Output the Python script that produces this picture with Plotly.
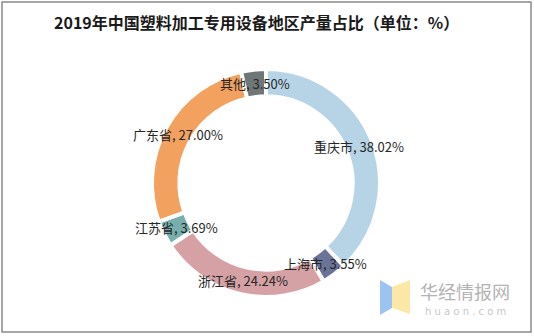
import math
import plotly.graph_objects as go

# Regional share of output of special equipment for plastics processing, 2019 (%)
regions = ["重庆市", "上海市", "浙江省", "江苏省", "广东省", "其他"]
shares = [38.02, 3.55, 24.24, 3.69, 27.00, 3.50]
colors = ["#b7d4e6", "#6b7399", "#d5a1a5", "#78afad", "#f3a15e", "#6f7776"]

W, H = 534, 336
CX, CY, R = 266, 183, 114     # donut centre and outer radius (px)
LABEL_R = 100                 # radius at which slice labels sit (px)

fig = go.Figure(
    go.Pie(
        labels=regions,
        values=shares,
        sort=False,
        direction="clockwise",
        rotation=0,
        hole=0.76,
        marker=dict(colors=colors, line=dict(color="white", width=4)),
        textinfo="none",
        hoverinfo="label+value",
        showlegend=False,
        domain=dict(x=[(CX - R) / W, (CX + R) / W],
                    y=[1 - (CY + R) / H, 1 - (CY - R) / H]),
    )
)

# Slice labels placed at the mid-angle of each slice
annotations = []
total = sum(shares)
cum = 0.0
for name, v in zip(regions, shares):
    mid = (cum + v / 2) / total * 2 * math.pi
    cum += v
    px = CX + LABEL_R * math.sin(mid)
    py = CY - LABEL_R * math.cos(mid)
    annotations.append(dict(
        x=px / W, y=1 - py / H, xref="paper", yref="paper",
        text=f"{name}, {v:.2f}%", showarrow=False,
        xanchor="center", yanchor="middle",
        font=dict(family="Noto Sans CJK SC", size=13, color="#262626"),
    ))

# Title
annotations.append(dict(
    x=256 / W, y=1 - 22 / H, xref="paper", yref="paper",
    text="<b>2019年中国塑料加工专用设备地区产量占比（单位：%）</b>",
    showarrow=False, xanchor="center", yanchor="middle",
    font=dict(family="Noto Sans CJK SC", size=16, color="#1a1a1a"),
))

# Source mark in the lower-right corner
annotations.append(dict(
    x=465 / W, y=1 - 291 / H, xref="paper", yref="paper",
    text="华经情报网", showarrow=False, xanchor="center", yanchor="middle",
    font=dict(family="Noto Sans CJK SC", size=18, color="#b3b3b3"),
))
annotations.append(dict(
    x=465 / W, y=1 - 311 / H, xref="paper", yref="paper",
    text="h u a o n . c o m", showarrow=False, xanchor="center", yanchor="middle",
    font=dict(family="DejaVu Sans", size=10, color="#c8c8c8"),
))


def ppath(points):
    return "M " + " L ".join(f"{x / W:.4f},{1 - y / H:.4f}" for x, y in points) + " Z"


shapes = [
    # outer frame
    dict(type="rect", xref="paper", yref="paper",
         x0=2 / W, x1=531 / W, y0=1 - 332 / H, y1=1 - 2 / H,
         line=dict(color="#8a8a8a", width=1.5), fillcolor="rgba(0,0,0,0)"),
    # logo: two folded panels
    dict(type="path", xref="paper", yref="paper",
         path=ppath([(380, 280), (392, 287), (392, 308), (380, 315)]),
         fillcolor="#9cc3f2", line=dict(width=0)),
    dict(type="path", xref="paper", yref="paper",
         path=ppath([(392, 287), (410, 280), (410, 314), (392, 308)]),
         fillcolor="#fbe7a6", line=dict(width=0)),
]

fig.update_layout(
    width=W, height=H,
    margin=dict(l=0, r=0, t=0, b=0),
    paper_bgcolor="white",
    plot_bgcolor="white",
    annotations=annotations,
    shapes=shapes,
)

fig.write_html("out.html")
